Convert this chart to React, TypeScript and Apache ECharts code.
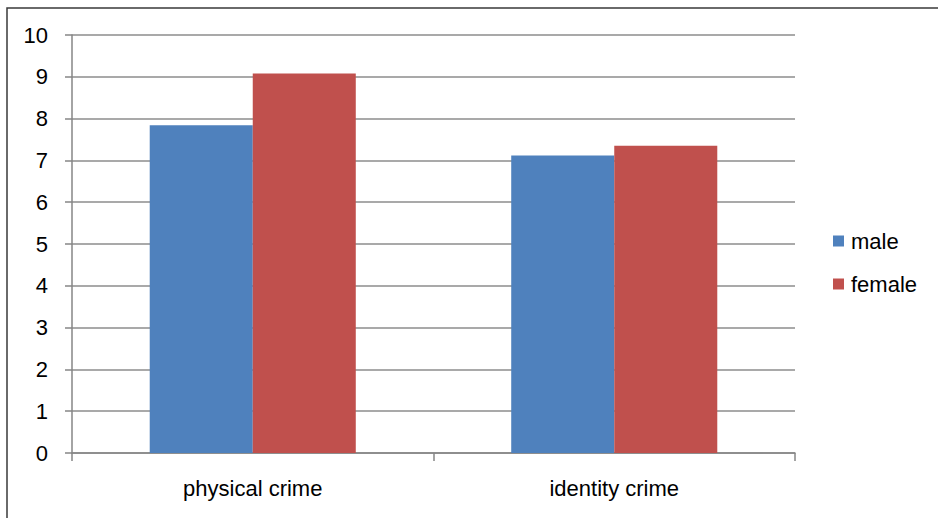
import React, { useEffect, useRef } from "react";
import * as echarts from "echarts";

const categories = ["physical crime", "identity crime"];
const maleValues = [7.84, 7.12];
const femaleValues = [9.08, 7.35];
const seriesNames = ["male", "female"];

const FONT = "Liberation Sans, Arial, sans-serif";

export default function App() {
  const ref = useRef<HTMLDivElement>(null);

  useEffect(() => {
    if (!ref.current) return;
    const chart = echarts.init(ref.current, undefined, { renderer: "svg" });
    chart.setOption({
      animation: false,
      backgroundColor: "#ffffff",
      textStyle: { fontFamily: FONT },
      graphic: [
        {
          type: "rect",
          shape: { x: 7, y: 8, width: 960, height: 540 },
          style: { fill: "none", stroke: "#3a3a3a", lineWidth: 1.5 },
          silent: true,
          z: -1,
        },
      ],
      grid: { left: 72, right: 143, top: 35, bottom: 65, containLabel: false },
      legend: {
        orient: "vertical",
        left: 828,
        top: 225,
        itemWidth: 11,
        itemHeight: 11,
        itemGap: 21,
        icon: "rect",
        textStyle: { fontSize: 22, color: "#000", fontFamily: FONT, padding: [0, 0, 0, 2] },
        data: seriesNames,
      },
      xAxis: {
        type: "category",
        data: categories,
        axisLine: { show: true, lineStyle: { color: "#868686", width: 1.5 } },
        axisTick: { show: true, length: 8, inside: false, lineStyle: { color: "#868686", width: 1.5 } },
        axisLabel: { fontSize: 22, color: "#000", margin: 24, fontFamily: FONT },
      },
      yAxis: {
        type: "value",
        min: 0,
        max: 10,
        interval: 1,
        axisLine: { show: true, lineStyle: { color: "#868686", width: 1.5 } },
        axisTick: { show: true, length: 7, lineStyle: { color: "#868686", width: 1.5 } },
        axisLabel: { fontSize: 22, color: "#000", margin: 24, fontFamily: FONT },
        splitLine: { show: true, lineStyle: { color: "#8c8c8c", width: 1.5 } },
      },
      series: [
        {
          name: seriesNames[0],
          type: "bar",
          data: maleValues,
          barGap: "0%",
          barCategoryGap: "43%",
          itemStyle: { color: "#4F81BD" },
        },
        {
          name: seriesNames[1],
          type: "bar",
          data: femaleValues,
          barGap: "0%",
          barCategoryGap: "43%",
          itemStyle: { color: "#C0504D" },
        },
      ],
    });
    return () => chart.dispose();
  }, []);

  return (
    <div
      ref={ref}
      style={{ position: "fixed", left: 0, top: 0, width: 938, height: 518, overflow: "hidden" }}
    />
  );
}
